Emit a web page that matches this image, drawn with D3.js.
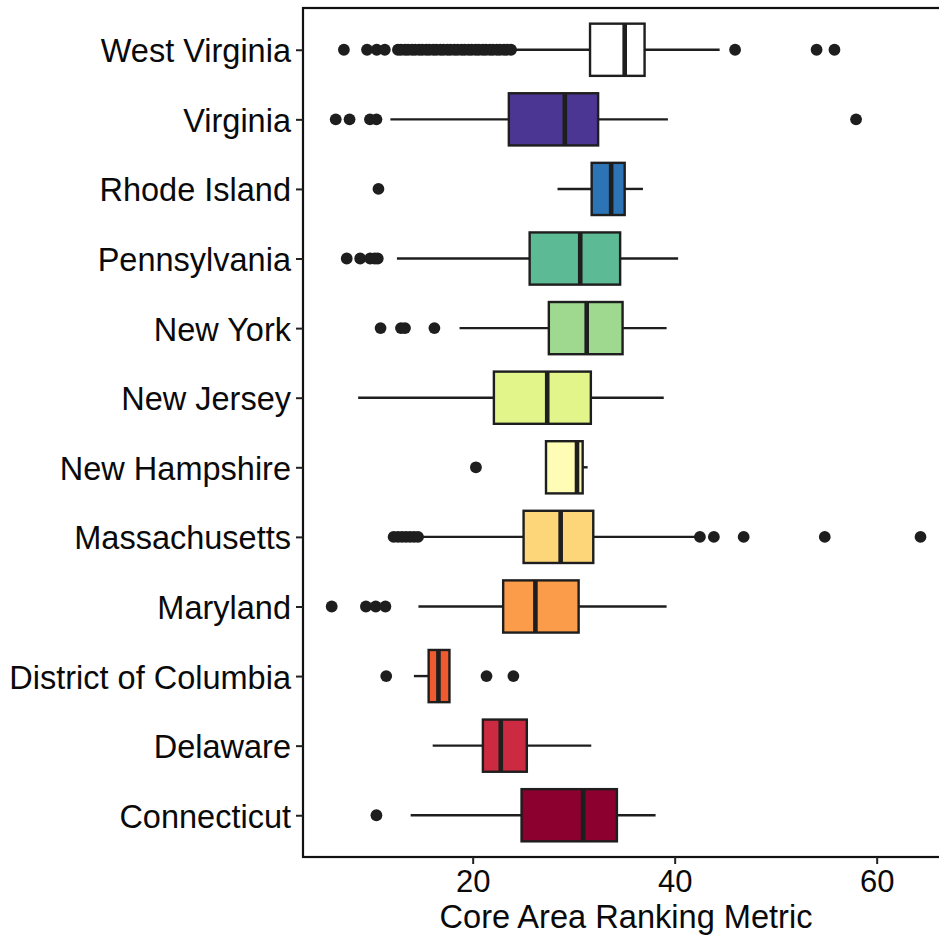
<!DOCTYPE html>
<html>
<head>
<meta charset="utf-8">
<script src="https://cdn.jsdelivr.net/npm/d3@7"></script>
<style>
  html, body { margin: 0; padding: 0; background: #fff; }
  svg { display: block; }
  text { font-family: "Liberation Sans", Arial, Helvetica, sans-serif; }
</style>
</head>
<body>
<div id="chart"></div>
<script>
// ---- data ----
const categories = ["West Virginia", "Virginia", "Rhode Island", "Pennsylvania", "New York",
  "New Jersey", "New Hampshire", "Massachusetts", "Maryland", "District of Columbia",
  "Delaware", "Connecticut"];
const whiskerLow  = [23.9, 11.85, 28.4, 12.5, 18.7, 8.66, 27.26, 14.9, 14.63, 14.18, 16.04, 13.86];
const q1          = [31.62, 23.58, 31.78, 25.64, 27.54, 22.10, 27.26, 25.04, 23.02, 15.64, 21.01, 24.84];
const medians     = [35.05, 29.12, 33.71, 30.65, 31.29, 27.38, 30.33, 28.71, 26.21, 16.61, 22.78, 30.93];
const q3          = [37.02, 32.42, 35.05, 34.60, 34.84, 31.70, 30.89, 31.94, 30.49, 17.70, 25.36, 34.28];
const whiskerHigh = [44.45, 39.33, 36.86, 40.34, 39.20, 38.92, 31.38, 42.3, 39.20, 17.70, 31.74, 38.11];
const outliers = [
  [7.25, 9.54, 10.5, 11.3, 12.6, 12.9, 13.3, 13.6, 14.0, 14.3, 14.7, 15.0, 15.4, 15.7, 16.1, 16.4,
   16.8, 17.1, 17.5, 17.8, 18.2, 18.5, 18.9, 19.2, 19.6, 19.9, 20.3, 20.6, 21.0, 21.3, 21.7, 22.0,
   22.4, 22.7, 23.1, 23.4, 23.8, 45.98, 54.05, 55.82],
  [6.44, 7.81, 9.83, 10.47, 57.96],
  [10.67],
  [7.53, 8.86, 9.85, 10.3, 10.6],
  [10.88, 12.9, 13.3, 16.21],
  [],
  [20.32],
  [12.17, 12.6, 13.0, 13.4, 13.8, 14.2, 14.59, 42.5, 43.88, 46.83, 54.86, 64.34],
  [6.04, 9.43, 10.40, 11.36],
  [11.44, 21.37, 24.03],
  [],
  [10.47]
];
const fills = ["#FFFFFF", "#4B3693", "#2C74B5", "#5CBA95", "#9FD88F", "#E2F58A", "#FFFDB5",
  "#FDD67A", "#FA9C4A", "#F05A30", "#CC2A40", "#8C0030"];
const xTicks = [20, 40, 60];
const xTitle = "Core Area Ranking Metric";

// ---- layout ----
const W = 939, H = 941;
const panel = { left: 303, top: 8, bottom: 857 };
const xDomain = [3.2, 67];
const x = d3.scaleLinear().domain(xDomain).range([panel.left, panel.left + (xDomain[1] - xDomain[0]) * 10.1]);
const y = d3.scalePoint().domain(categories).range([panel.top, panel.bottom]).padding(0.6);
const half = y.step() * 0.375;
const ink = "#1e1e1e";

const svg = d3.select("#chart").append("svg").attr("width", W).attr("height", H);

const rows = categories.map((c, i) => ({
  c, lo: whiskerLow[i], q1: q1[i], med: medians[i], q3: q3[i], hi: whiskerHigh[i],
  out: outliers[i], fill: fills[i]
}));

const g = svg.append("g");

// whiskers
g.selectAll(".wl").data(rows).join("line")
  .attr("x1", d => x(d.lo)).attr("x2", d => x(d.q1))
  .attr("y1", d => y(d.c)).attr("y2", d => y(d.c))
  .attr("stroke", ink).attr("stroke-width", 2.4);
g.selectAll(".wh").data(rows).join("line")
  .attr("x1", d => x(d.q3)).attr("x2", d => x(d.hi))
  .attr("y1", d => y(d.c)).attr("y2", d => y(d.c))
  .attr("stroke", ink).attr("stroke-width", 2.4);

// boxes
g.selectAll(".box").data(rows).join("rect")
  .attr("x", d => x(d.q1)).attr("width", d => x(d.q3) - x(d.q1))
  .attr("y", d => y(d.c) - half).attr("height", half * 2)
  .attr("fill", d => d.fill).attr("stroke", ink).attr("stroke-width", 2.4);

// medians
g.selectAll(".med").data(rows).join("line")
  .attr("x1", d => x(d.med)).attr("x2", d => x(d.med))
  .attr("y1", d => y(d.c) - half).attr("y2", d => y(d.c) + half)
  .attr("stroke", ink).attr("stroke-width", 4.6);

// outliers
const pts = rows.flatMap(d => d.out.map(v => ({ c: d.c, v })));
g.selectAll(".pt").data(pts).join("circle")
  .attr("cx", d => x(d.v)).attr("cy", d => y(d.c)).attr("r", 5.9)
  .attr("fill", ink);

// panel border
svg.append("rect")
  .attr("x", panel.left).attr("y", panel.top)
  .attr("width", x(xDomain[1]) - panel.left).attr("height", panel.bottom - panel.top)
  .attr("fill", "none").attr("stroke", "#111").attr("stroke-width", 2.2);

// x axis
const xAxis = svg.append("g").attr("transform", `translate(0,${panel.bottom})`)
  .call(d3.axisBottom(x).tickValues(xTicks).tickSize(7).tickPadding(6).tickFormat(d3.format("d")));
xAxis.select(".domain").remove();
xAxis.selectAll(".tick line").attr("stroke", "#222").attr("stroke-width", 2);
xAxis.selectAll(".tick text").attr("font-size", 31).attr("fill", "#0a0a0a")
  .attr("font-family", "'Liberation Sans', Arial, sans-serif");

// y axis
const yAxis = svg.append("g").attr("transform", `translate(${panel.left},0)`)
  .call(d3.axisLeft(y).tickSize(7).tickPadding(5));
yAxis.select(".domain").remove();
yAxis.selectAll(".tick line").attr("stroke", "#222").attr("stroke-width", 2);
yAxis.selectAll(".tick text").attr("font-size", 32.5).attr("fill", "#0a0a0a")
  .attr("dy", "0.37em")
  .attr("font-family", "'Liberation Sans', Arial, sans-serif");

// x title
svg.append("text")
  .attr("x", 626).attr("y", 928)
  .attr("text-anchor", "middle").attr("font-size", 32.6).attr("fill", "#0a0a0a")
  .text(xTitle);
</script>
</body>
</html>
